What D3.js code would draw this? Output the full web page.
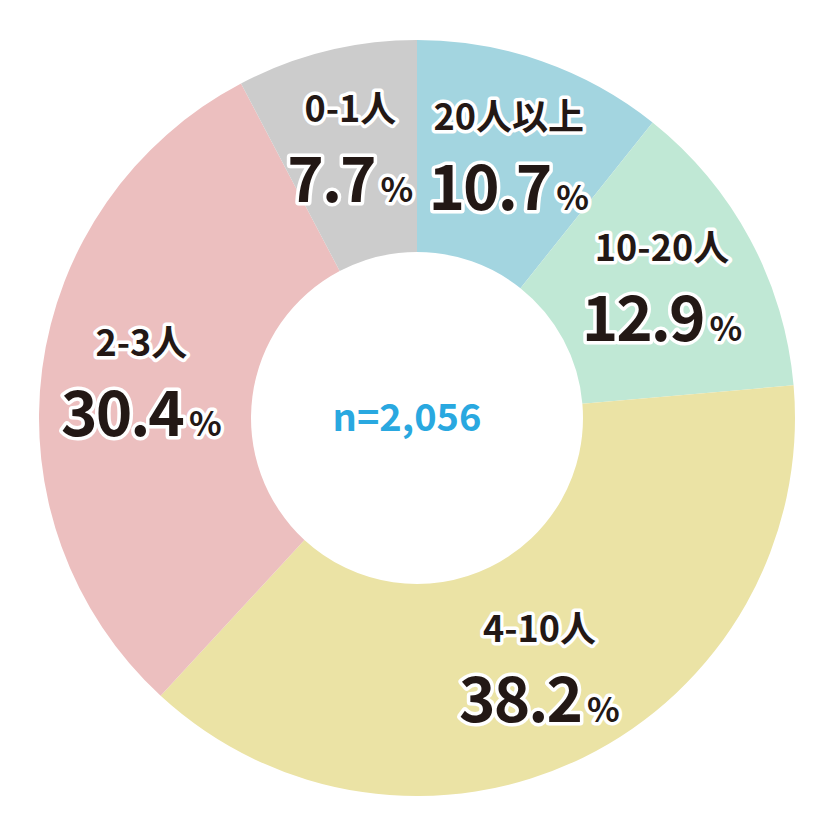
<!DOCTYPE html>
<html><head><meta charset="utf-8">
<script src="https://cdn.jsdelivr.net/npm/d3@7"></script>
<style>body{margin:0;background:#fff}</style></head>
<body><svg id="c" width="834" height="835"></svg>
<script>
const categories = ["20人以上","10-20人","4-10人","2-3人","0-1人"];
const values = [10.7, 12.9, 38.2, 30.4, 7.7];
const colors = ["#a3d5e0","#c0e8d5","#ebe3a5","#ecbfbf","#cccccc"];
const sampleLabel = "n=2,056";

const svg = d3.select("#c");
const cx = 417, cy = 418, R = 378, r0 = 166;
const g = svg.append("g").attr("transform", `translate(${cx},${cy})`);
const pie = d3.pie().sort(null).value(d => d)(values);
const arc = d3.arc().innerRadius(r0).outerRadius(R);
g.selectAll("path").data(pie).join("path").attr("d", arc).attr("fill", (d,i) => colors[i]);

const lblArc = d3.arc().innerRadius(278).outerRadius(278);
const font = "'Noto Sans CJK JP','Noto Sans',sans-serif";
pie.forEach((d,i) => {
  const [x,y] = lblArc.centroid(d);
  const t = g.append("g").attr("transform", `translate(${x},${y})`);
  const common = s => s.attr("text-anchor","middle").attr("font-family",font).attr("font-weight",700)
    .attr("fill","#231815").attr("stroke","#fff").attr("stroke-width",7).attr("stroke-linejoin","round")
    .attr("paint-order","stroke");
  common(t.append("text").attr("y",-26).attr("font-size",36).text(categories[i]));
  const n = common(t.append("text").attr("y",54).attr("font-size",62).attr("letter-spacing",-2));
  n.append("tspan").text(values[i].toFixed(1));
  n.append("tspan").attr("font-size",34).attr("dx",6).attr("letter-spacing",0).text("%");
});
svg.append("text").attr("x",cx-10).attr("y",cy+13).attr("text-anchor","middle")
  .attr("font-family",font).attr("font-weight",700).attr("font-size",38).attr("fill","#29a8e0").text(sampleLabel);
</script></body></html>
